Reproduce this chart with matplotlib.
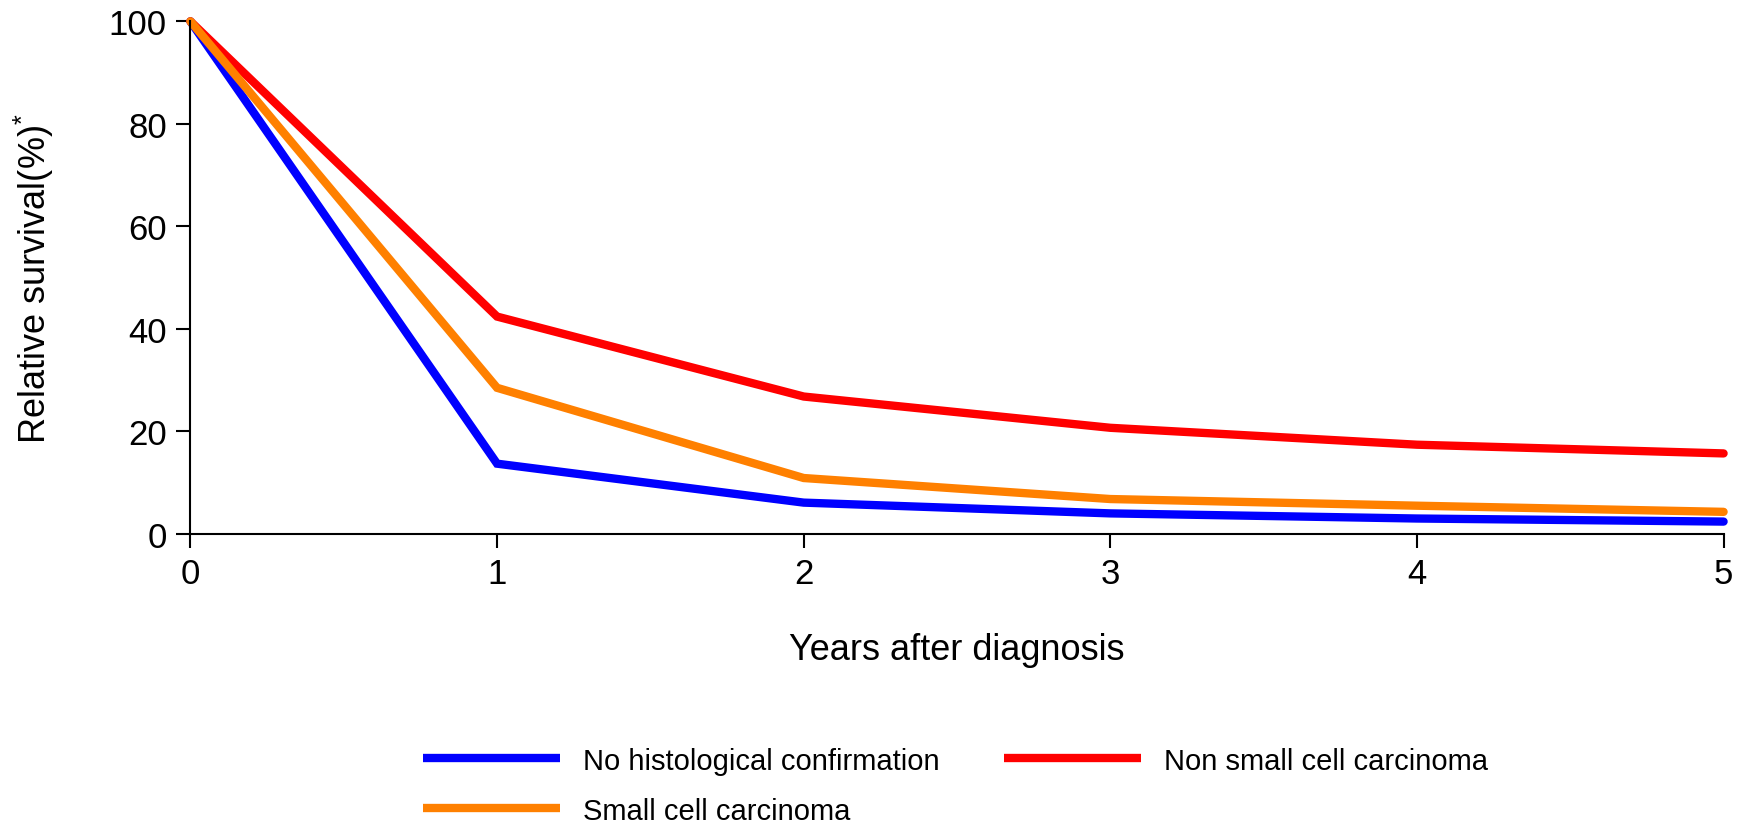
import matplotlib

matplotlib.use("Agg")
import matplotlib.pyplot as plt
from matplotlib.lines import Line2D

plt.rcParams["font.family"] = ["Liberation Sans", "DejaVu Sans"]
plt.rcParams["mathtext.fontset"] = "custom"
plt.rcParams["mathtext.rm"] = "Liberation Sans"

years = [0, 1, 2, 3, 4, 5]
no_histology = [100, 13.7, 6.1, 4.0, 3.0, 2.4]
non_small_cell = [100, 42.4, 26.8, 20.7, 17.4, 15.7]
small_cell = [100, 28.5, 10.9, 6.8, 5.5, 4.3]
y_ticks = [0, 20, 40, 60, 80, 100]

labels = ["No histological confirmation", "Non small cell carcinoma", "Small cell carcinoma"]
colors = ["#0000ff", "#ff0000", "#ff8000"]

fig = plt.figure(figsize=(17.47, 8.28), dpi=100)
ax = fig.add_axes([0.109, 0.354, 0.8776, 0.619])

for values, color in zip([no_histology, non_small_cell, small_cell], colors):
    ax.plot(years, values, color=color, linewidth=6, solid_capstyle="round",
            solid_joinstyle="miter", clip_on=False)

ax.set_xlim(0, 5)
ax.set_ylim(0, 100)
ax.set_xticks(years)
ax.set_yticks(y_ticks)
ax.spines["top"].set_visible(False)
ax.spines["right"].set_visible(False)
ax.spines["left"].set_linewidth(1.5)
ax.spines["bottom"].set_linewidth(1.5)
ax.tick_params(direction="out", length=10, width=1.5, labelsize=25)
ax.tick_params(axis="x", pad=7)
ax.tick_params(axis="y", pad=7)

ax.set_xlabel("Years after diagnosis", fontsize=26, labelpad=30)
ax.set_ylabel("Relative survival(%)$^{*}$", fontsize=26)
ax.yaxis.set_label_coords(-0.088, 0.5)

# legend: column-major order -> blue, orange | red
order = [0, 2, 1]
handles = [Line2D([], [], color=colors[i], linewidth=6, solid_capstyle="butt") for i in order]
fig.legend(
    handles,
    [labels[i] for i in order],
    ncol=2,
    loc="center",
    bbox_to_anchor=(0.547, 0.050),
    frameon=False,
    fontsize=21,
    handlelength=4.7,
    handletextpad=0.8,
    columnspacing=2.2,
    labelspacing=0.75,
)

fig.savefig("out.png", dpi=100)
